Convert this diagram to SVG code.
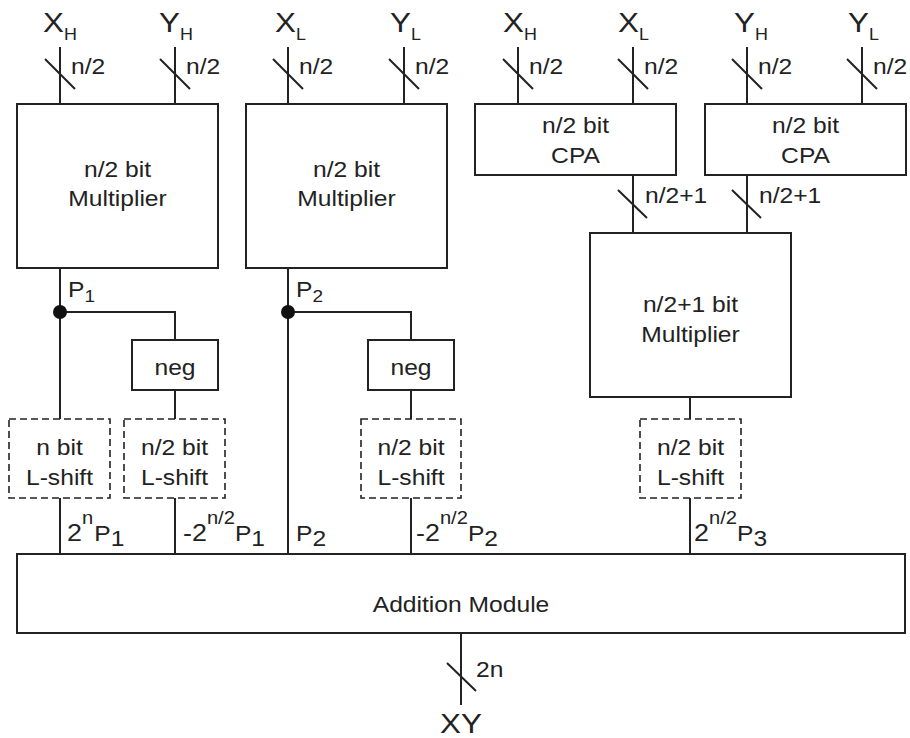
<svg xmlns="http://www.w3.org/2000/svg" width="910" height="738" viewBox="0 0 910 738">
<style>
.box{fill:#fff;stroke:#222;stroke-width:2}
.dbox{fill:none;stroke:#222;stroke-width:1.6;stroke-dasharray:7,4}
.w{fill:none;stroke:#222;stroke-width:2}
.t{font-family:"Liberation Sans",Arial,sans-serif;font-size:22px;fill:#222}
.c{text-anchor:middle}
</style>
<rect width="910" height="738" fill="#fff"/>
<g id="connectors">
  <path class="w" d="M60,47V104M175,47V104M288,47V104M404,47V104M518,47V104M633,47V104M747,47V104M862,47V104"/>
  <path class="w" d="M45,59L75,89M160,59L190,89M273,59L303,89M389,59L419,89M503,59L533,89M618,59L648,89M732,59L762,89M847,59L877,89"/>
  <path class="w" d="M633,175V233M747,175V233M618,190L647,218M732,190L761,218"/>
  <path class="w" d="M60,268V419M60,312H175V340M175,390V419"/>
  <path class="w" d="M288,268V554M288,312H411V340M411,390V419"/>
  <path class="w" d="M690,397V419"/>
  <path class="w" d="M60,498V554M175,498V554M411,498V554M690,498V554"/>
  <path class="w" d="M461,633V705M447,663L476,691"/>
  <circle cx="60" cy="312" r="7" fill="#111"/>
  <circle cx="288" cy="312" r="7" fill="#111"/>
</g>
<g id="labels">
  <text class="t" transform="translate(43,32) scale(1.12,1)"><tspan font-size="28">X</tspan><tspan font-size="16" dy="8">H</tspan></text>
  <text class="t" transform="translate(159,32) scale(1.12,1)"><tspan font-size="28">Y</tspan><tspan font-size="16" dy="8">H</tspan></text>
  <text class="t" transform="translate(275,32) scale(1.12,1)"><tspan font-size="28">X</tspan><tspan font-size="16" dy="8">L</tspan></text>
  <text class="t" transform="translate(390,32) scale(1.12,1)"><tspan font-size="28">Y</tspan><tspan font-size="16" dy="8">L</tspan></text>
  <text class="t" transform="translate(503,32) scale(1.12,1)"><tspan font-size="28">X</tspan><tspan font-size="16" dy="8">H</tspan></text>
  <text class="t" transform="translate(618,32) scale(1.12,1)"><tspan font-size="28">X</tspan><tspan font-size="16" dy="8">L</tspan></text>
  <text class="t" transform="translate(734,32) scale(1.12,1)"><tspan font-size="28">Y</tspan><tspan font-size="16" dy="8">H</tspan></text>
  <text class="t" transform="translate(848,32) scale(1.12,1)"><tspan font-size="28">Y</tspan><tspan font-size="16" dy="8">L</tspan></text>
  <text class="t" transform="translate(71,74) scale(1.12,1)">n/2</text>
  <text class="t" transform="translate(186,74) scale(1.12,1)">n/2</text>
  <text class="t" transform="translate(299,74) scale(1.12,1)">n/2</text>
  <text class="t" transform="translate(415,74) scale(1.12,1)">n/2</text>
  <text class="t" transform="translate(529,74) scale(1.12,1)">n/2</text>
  <text class="t" transform="translate(644,74) scale(1.12,1)">n/2</text>
  <text class="t" transform="translate(758,74) scale(1.12,1)">n/2</text>
  <text class="t" transform="translate(873,74) scale(1.12,1)">n/2</text>
  <text class="t" transform="translate(645,203) scale(1.12,1)">n/2+1</text>
  <text class="t" transform="translate(759,203) scale(1.12,1)">n/2+1</text>
  <text class="t" transform="translate(68,297) scale(1.12,1)">P<tspan font-size="17" dy="5">1</tspan></text>
  <text class="t" transform="translate(296,297) scale(1.12,1)">P<tspan font-size="17" dy="5">2</tspan></text>
  <text class="t" transform="translate(67,541) scale(1.12,1)"><tspan font-size="24">2</tspan><tspan font-size="18" dy="-17">n</tspan><tspan dx="1" dy="17">P</tspan><tspan dy="5">1</tspan></text>
  <text class="t" transform="translate(183,541) scale(1.12,1)"><tspan font-size="24">-2</tspan><tspan font-size="18" dy="-17">n/2</tspan><tspan dy="17">P</tspan><tspan dy="5">1</tspan></text>
  <text class="t" transform="translate(296,541) scale(1.12,1)">P<tspan dy="5">2</tspan></text>
  <text class="t" transform="translate(416,541) scale(1.12,1)"><tspan font-size="24">-2</tspan><tspan font-size="18" dy="-17">n/2</tspan><tspan dy="17">P</tspan><tspan dy="5">2</tspan></text>
  <text class="t" transform="translate(694,541) scale(1.12,1)"><tspan font-size="24">2</tspan><tspan font-size="18" dy="-17">n/2</tspan><tspan dy="17">P</tspan><tspan dy="5">3</tspan></text>
  <text class="t" transform="translate(476,677) scale(1.12,1)">2n</text>
  <text class="t c" transform="translate(461,733) scale(1.12,1)"><tspan font-size="28">XY</tspan></text>
</g>
<g id="mult1">
  <rect class="box" x="17" y="104" width="201" height="164"/>
  <text class="t c" transform="translate(117.5,177) scale(1.12,1)">n/2 bit</text>
  <text class="t c" transform="translate(117.5,206) scale(1.12,1)">Multiplier</text>
</g>
<g id="mult2">
  <rect class="box" x="246" y="104" width="201" height="164"/>
  <text class="t c" transform="translate(346.5,177) scale(1.12,1)">n/2 bit</text>
  <text class="t c" transform="translate(346.5,206) scale(1.12,1)">Multiplier</text>
</g>
<g id="cpa1">
  <rect class="box" x="475" y="104" width="201" height="71"/>
  <text class="t c" transform="translate(575.5,133) scale(1.12,1)">n/2 bit</text>
  <text class="t c" transform="translate(575.5,163) scale(1.12,1)">CPA</text>
</g>
<g id="cpa2">
  <rect class="box" x="705" y="104" width="201" height="71"/>
  <text class="t c" transform="translate(805.5,133) scale(1.12,1)">n/2 bit</text>
  <text class="t c" transform="translate(805.5,163) scale(1.12,1)">CPA</text>
</g>
<g id="mult3">
  <rect class="box" x="590" y="233" width="201" height="164"/>
  <text class="t c" transform="translate(690.5,312) scale(1.12,1)">n/2+1 bit</text>
  <text class="t c" transform="translate(690.5,342) scale(1.12,1)">Multiplier</text>
</g>
<g id="neg1">
  <rect class="box" x="132" y="340" width="86" height="50"/>
  <text class="t c" transform="translate(175,375) scale(1.12,1)">neg</text>
</g>
<g id="neg2">
  <rect class="box" x="368" y="340" width="86" height="50"/>
  <text class="t c" transform="translate(411,375) scale(1.12,1)">neg</text>
</g>
<g id="shift1">
  <rect class="dbox" x="9" y="419" width="101" height="79"/>
  <text class="t c" transform="translate(59.5,455) scale(1.12,1)">n bit</text>
  <text class="t c" transform="translate(59.5,485) scale(1.12,1)">L-shift</text>
</g>
<g id="shift2">
  <rect class="dbox" x="124" y="419" width="101" height="79"/>
  <text class="t c" transform="translate(174.5,455) scale(1.12,1)">n/2 bit</text>
  <text class="t c" transform="translate(174.5,485) scale(1.12,1)">L-shift</text>
</g>
<g id="shift3">
  <rect class="dbox" x="361" y="419" width="100" height="79"/>
  <text class="t c" transform="translate(411,455) scale(1.12,1)">n/2 bit</text>
  <text class="t c" transform="translate(411,485) scale(1.12,1)">L-shift</text>
</g>
<g id="shift4">
  <rect class="dbox" x="640" y="419" width="101" height="79"/>
  <text class="t c" transform="translate(690.5,455) scale(1.12,1)">n/2 bit</text>
  <text class="t c" transform="translate(690.5,485) scale(1.12,1)">L-shift</text>
</g>
<g id="addition">
  <rect class="box" x="17" y="554" width="888" height="79"/>
  <text class="t c" transform="translate(461,612) scale(1.12,1)">Addition Module</text>
</g>
</svg>
